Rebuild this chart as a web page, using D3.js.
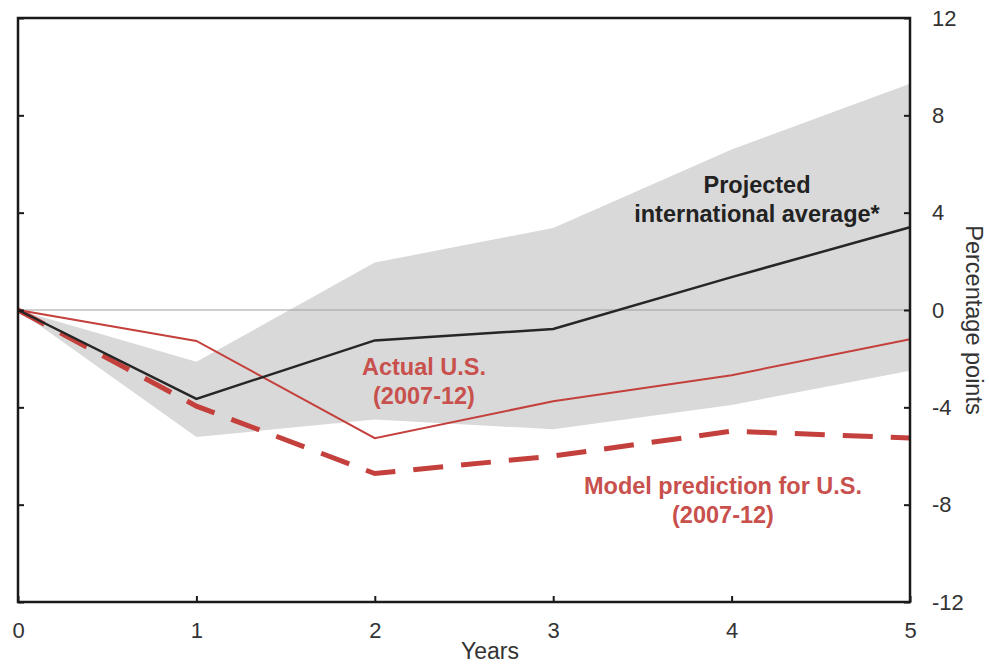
<!DOCTYPE html>
<html>
<head>
<meta charset="utf-8">
<script src="https://cdn.jsdelivr.net/npm/d3@7"></script>
<style>
  body { margin: 0; background: #fff; }
  text { font-family: "Liberation Sans", Arial, sans-serif; }
</style>
</head>
<body>
<div id="chart"></div>
<script>
/*
    DATA
*/
let years = [0, 1, 2, 3, 4, 5];
let projected = [0, -3.65, -1.25, -0.78, 1.35, 3.4];
let actualUS = [0, -1.27, -5.27, -3.75, -2.68, -1.2];
let modelUS = [0, -3.95, -6.72, -6.0, -4.98, -5.26];
let bandUpper = [0, -2.13, 1.95, 3.37, 6.6, 9.3];
let bandLower = [0, -5.22, -4.5, -4.9, -3.9, -2.5];
let yTicks = [12, 8, 4, 0, -4, -8, -12];

/*
    CONSTANTS
*/
let SIZE = { width: 989, height: 666 };
let PLOT = { left: 18, top: 18, right: 910, bot: 602 };
let RED = "#c4403c";
let RED_TEXT = "#c8504d";
let FONT = "'Liberation Sans', Arial, sans-serif";

var svg = d3.select("#chart")
    .append("svg")
    .attr("width", SIZE.width)
    .attr("height", SIZE.height);

var x = d3.scaleLinear().domain([0, 5]).range([PLOT.left, PLOT.right]);
var y = d3.scaleLinear().domain([-12, 12]).range([PLOT.bot, PLOT.top]);

// grey range band
var band = d3.area()
    .x((d, i) => x(years[i]))
    .y0((d, i) => y(bandLower[i]))
    .y1((d, i) => y(bandUpper[i]));
svg.append("path")
    .attr("d", band(years))
    .attr("fill", "#d9d9d9");

// zero line
svg.append("line")
    .attr("x1", x(0)).attr("x2", x(5))
    .attr("y1", y(0)).attr("y2", y(0))
    .attr("stroke", "#a0a0a0")
    .attr("stroke-width", 1.2);

function lineOf(vals) {
    return d3.line().x((d, i) => x(years[i])).y(d => y(d))(vals);
}

svg.append("path")
    .attr("d", lineOf(modelUS))
    .attr("fill", "none")
    .attr("stroke", RED)
    .attr("stroke-width", 5)
    .attr("stroke-dasharray", "30,18");

svg.append("path")
    .attr("d", lineOf(actualUS))
    .attr("fill", "none")
    .attr("stroke", RED)
    .attr("stroke-width", 2);

svg.append("path")
    .attr("d", lineOf(projected))
    .attr("fill", "none")
    .attr("stroke", "#262626")
    .attr("stroke-width", 2.5);

// frame
svg.append("rect")
    .attr("x", PLOT.left).attr("y", PLOT.top)
    .attr("width", PLOT.right - PLOT.left)
    .attr("height", PLOT.bot - PLOT.top)
    .attr("fill", "none")
    .attr("stroke", "#1a1a1a")
    .attr("stroke-width", 2.5);

// axes
var xAxis = svg.append("g")
    .attr("transform", `translate(0, ${PLOT.bot})`)
    .call(d3.axisBottom(x).tickValues(years).tickFormat(d3.format("d")).tickSizeInner(-6).tickSizeOuter(0).tickPadding(20));
var yAxisR = svg.append("g")
    .attr("transform", `translate(${PLOT.right}, 0)`)
    .call(d3.axisRight(y).tickValues(yTicks).tickFormat(d => String(d)).tickSizeInner(-6).tickSizeOuter(0));
var yAxisL = svg.append("g")
    .attr("transform", `translate(${PLOT.left}, 0)`)
    .call(d3.axisLeft(y).tickValues(yTicks).tickSizeInner(-6).tickSizeOuter(0).tickFormat(""));

[xAxis, yAxisR, yAxisL].forEach(g => {
    g.select(".domain").remove();
    g.selectAll("line").attr("stroke", "#1a1a1a").attr("stroke-width", 2);
    g.selectAll("text")
        .style("font-family", FONT)
        .style("font-size", "22px")
        .attr("fill", "#333");
});
yAxisR.selectAll("text").attr("text-anchor", "start").attr("x", 22);

// axis titles
svg.append("text")
    .attr("x", 490).attr("y", 659)
    .attr("text-anchor", "middle")
    .attr("font-size", 23)
    .attr("fill", "#333")
    .text("Years");
svg.append("text")
    .attr("transform", `translate(966, 320) rotate(90)`)
    .attr("text-anchor", "middle")
    .attr("font-size", 23.5)
    .attr("fill", "#333")
    .text("Percentage points");

// labels
function label(lines, cx, y0, color) {
    var t = svg.append("text")
        .attr("text-anchor", "middle")
        .attr("font-size", 23.5)
        .attr("font-weight", "bold")
        .attr("fill", color);
    lines.forEach((s, i) => {
        t.append("tspan").attr("x", cx).attr("y", y0 + i * 29).text(s);
    });
}
label(["Projected", "international average*"], 757, 193, "#222");
label(["Actual U.S.", "(2007-12)"], 424, 375, RED_TEXT);
label(["Model prediction for U.S.", "(2007-12)"], 723, 494, RED_TEXT);
</script>
</body>
</html>
